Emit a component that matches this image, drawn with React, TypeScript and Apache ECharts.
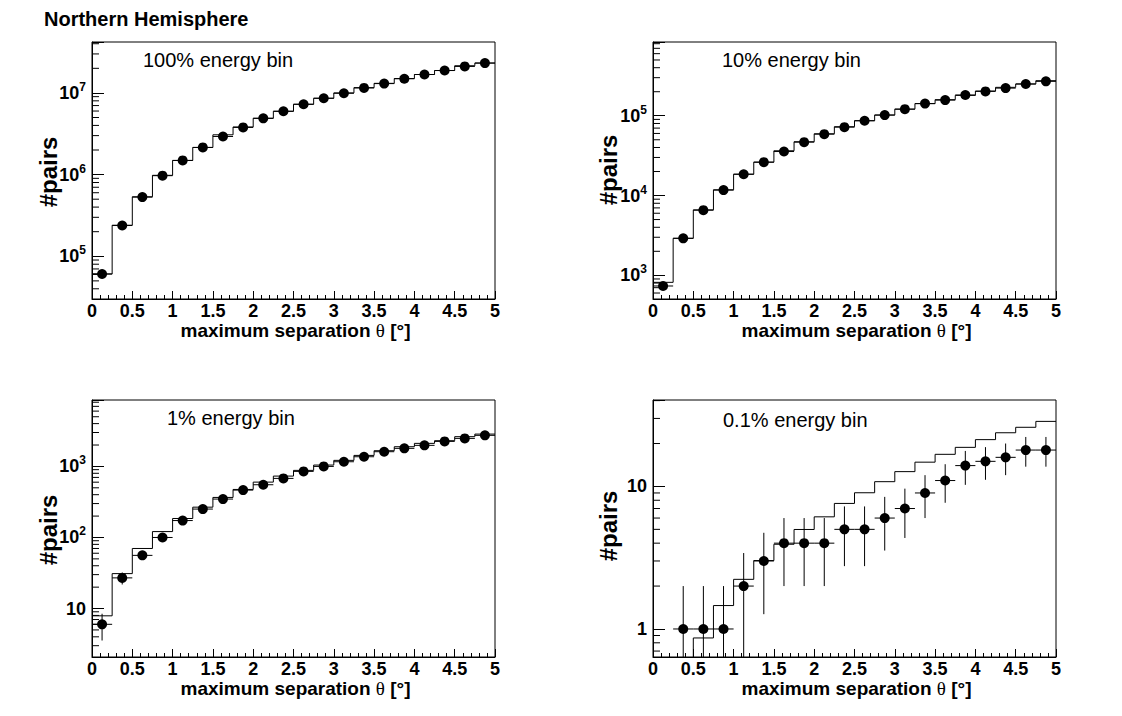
import React, { useEffect, useRef } from 'react';
import * as echarts from 'echarts';

const FONT = '"Liberation Sans", Arial, Helvetica, sans-serif';

// ---- data ----
const BIN_EDGES = [0, 0.25, 0.5, 0.75, 1, 1.25, 1.5, 1.75, 2, 2.25, 2.5, 2.75, 3, 3.25, 3.5, 3.75, 4, 4.25, 4.5, 4.75, 5];
const BIN_CENTERS = [0.125, 0.375, 0.625, 0.875, 1.125, 1.375, 1.625, 1.875, 2.125, 2.375, 2.625, 2.875, 3.125, 3.375, 3.625, 3.875, 4.125, 4.375, 4.625, 4.875];
const BIN_HALF_WIDTH = 0.125;

const P1_POINTS = [6.07e4, 2.38e5, 5.3e5, 9.7e5, 1.49e6, 2.15e6, 2.93e6, 3.78e6, 4.88e6, 5.96e6, 7.26e6, 8.6e6, 9.9e6, 1.15e7, 1.3e7, 1.49e7, 1.68e7, 1.88e7, 2.11e7, 2.32e7];
const P1_HIST = [6.07e4, 2.4e5, 5.35e5, 9.8e5, 1.49e6, 2.15e6, 3.07e6, 3.83e6, 4.9e6, 5.96e6, 7.26e6, 8.6e6, 1.0e7, 1.16e7, 1.31e7, 1.5e7, 1.68e7, 1.88e7, 2.15e7, 2.32e7];

const P2_POINTS = [735, 2910, 6550, 11700, 18500, 26200, 35600, 46700, 58800, 72000, 86600, 102000, 121000, 142000, 157000, 182000, 202000, 222000, 250000, 270000];
const P2_HIST = [817, 2910, 6610, 11800, 18500, 26200, 36400, 47200, 59400, 72800, 86600, 102000, 121000, 142000, 159000, 180000, 204000, 227000, 250000, 275000];

const P3_POINTS = [6, 27, 56, 100, 173, 251, 347, 464, 552, 678, 851, 1000, 1163, 1368, 1610, 1795, 1978, 2250, 2480, 2737];
const P3_ERRORS = [2.45, 5.2, 7.5, 10, 13.2, 15.8, 18.6, 21.5, 23.5, 26, 29.2, 31.6, 34.1, 37, 40.1, 42.4, 44.5, 47.4, 49.8, 52.3];
const P3_HIST = [7.9, 31, 70, 121, 185, 267, 366, 474, 601, 731, 879, 1045, 1216, 1429, 1663, 1892, 2110, 2300, 2620, 2850];

const P4_POINTS = [0, 1, 1, 1, 2, 3, 4, 4, 4, 5, 5, 6, 7, 9, 11, 14, 15, 16, 18, 18];
const P4_ERRORS = [0, 1, 1, 1, 1.41, 1.73, 2, 2, 2, 2.24, 2.24, 2.45, 2.65, 3, 3.32, 3.74, 3.87, 4, 4.24, 4.24];
const P4_HIST = [0, 0, 0.865, 1.46, 2.23, 3.02, 3.93, 4.99, 6.12, 7.6, 9.03, 10.8, 12.7, 14.8, 16.8, 18.8, 21.3, 23.8, 26.0, 28.6];

const PANEL_LABELS = ['100% energy bin', '10% energy bin', '1% energy bin', '0.1% energy bin'];
const Y_RANGES: [number, number][] = [[3.0e4, 4.2e7], [505, 8.4e5], [2.08, 8.6e3], [0.636, 40.4]];
const MINOR_MULTIPLIERS = [2, 3, 4, 5, 6, 7, 8, 9];

const MAIN_TITLE = 'Northern Hemisphere';
const X_TITLE = 'maximum separation {t|θ} [°]';
const Y_TITLE = '#pairs';

const PANELS = [
  { points: P1_POINTS, hist: P1_HIST, errors: null as number[] | null },
  { points: P2_POINTS, hist: P2_HIST, errors: null as number[] | null },
  { points: P3_POINTS, hist: P3_HIST, errors: P3_ERRORS },
  { points: P4_POINTS, hist: P4_HIST, errors: P4_ERRORS },
];

// ---- layout ----
const GRID_W = 403;
const GRID_H = 257;
const LAYOUT = [
  { left: 92, top: 42, labelX: 143, labelY: 60, yTitleX: 48, yTitleY: 172 },
  { left: 653, top: 42, labelX: 722, labelY: 60, yTitleX: 608, yTitleY: 170 },
  { left: 92, top: 400, labelX: 167, labelY: 418, yTitleX: 48, yTitleY: 530 },
  { left: 653, top: 400, labelX: 723, labelY: 420, yTitleX: 608, yTitleY: 526 },
];

function minorTickValues(lo: number, hi: number): number[] {
  const out: number[] = [];
  for (let e = Math.floor(Math.log10(lo)); e <= Math.ceil(Math.log10(hi)); e++) {
    for (const m of MINOR_MULTIPLIERS) {
      const v = m * Math.pow(10, e);
      if (v > lo && v < hi) out.push(v);
    }
  }
  return out;
}

function yLabelFormatter(value: number) {
  const lg = Math.log10(value);
  const e = Math.round(lg);
  if (Math.abs(lg - e) > 1e-6) return '';
  if (e === 0) return '{b|1}';
  if (e === 1) return '{b|10}';
  return '{b|10}{s|' + e + '}';
}

function buildOption() {
  const grid: any[] = [];
  const xAxis: any[] = [];
  const yAxis: any[] = [];
  const series: any[] = [];
  const graphic: any[] = [];

  graphic.push({
    type: 'text',
    x: 44,
    y: 19,
    style: {
      text: MAIN_TITLE,
      font: 'bold 20px ' + FONT,
      fill: '#000',
      align: 'left',
      verticalAlign: 'middle',
      textAlign: 'left',
      textVerticalAlign: 'middle',
    },
  });

  PANELS.forEach((p, i) => {
    const L = LAYOUT[i];
    const [yMin, yMax] = Y_RANGES[i];
    grid.push({
      left: L.left,
      top: L.top,
      width: GRID_W,
      height: GRID_H,
      show: true,
      borderColor: '#000',
      borderWidth: 1,
      backgroundColor: 'transparent',
      containLabel: false,
      outerBoundsMode: 'none',
    });
    xAxis.push({
      type: 'value',
      gridIndex: i,
      min: 0,
      max: 5,
      interval: 0.5,
      axisLine: { show: true, onZero: false, lineStyle: { color: '#000', width: 1 } },
      axisTick: { show: true, inside: true, length: 8, lineStyle: { color: '#000', width: 1 } },
      minorTick: { show: true, splitNumber: 5, length: 4, lineStyle: { color: '#000', width: 1 } },
      splitLine: { show: false },
      minorSplitLine: { show: false },
      axisLabel: {
        color: '#000',
        fontFamily: FONT,
        fontWeight: 'bold',
        fontSize: 18,
        margin: 3,
        showMinLabel: true,
        showMaxLabel: true,
      },
    });
    yAxis.push({
      type: 'log',
      logBase: 10,
      gridIndex: i,
      min: yMin,
      max: yMax,
      axisLine: { show: true, lineStyle: { color: '#000', width: 1 } },
      axisTick: { show: true, inside: true, length: 12, lineStyle: { color: '#000', width: 1 } },
      splitLine: { show: false },
      axisLabel: {
        margin: 6,
        formatter: yLabelFormatter,
        rich: {
          b: { fontFamily: FONT, fontWeight: 'bold', fontSize: 18, color: '#000', lineHeight: 24 },
          s: { fontFamily: FONT, fontWeight: 'bold', fontSize: 12, color: '#000', lineHeight: 12, verticalAlign: 'top' },
        },
      },
    });

    // histogram (step line)
    const floorVal = yMin * 0.5;
    series.push({
      type: 'line',
      xAxisIndex: i,
      yAxisIndex: i,
      step: 'end',
      symbol: 'none',
      showSymbol: false,
      silent: true,
      clip: true,
      z: 2,
      lineStyle: { color: '#000', width: 1 },
      data: BIN_EDGES.map((x, k) => {
        const v = p.hist[Math.min(k, p.hist.length - 1)];
        return [x, v > 0 ? v : floorVal];
      }),
    });

    // error bars
    const errData = BIN_CENTERS.map((x, k) => [x, p.points[k], p.errors ? p.errors[k] : 0]).filter((d) => d[1] > 0);
    series.push({
      type: 'custom',
      xAxisIndex: i,
      yAxisIndex: i,
      silent: true,
      z: 3,
      encode: { x: 0, y: 1 },
      data: errData,
      renderItem: (params: any, api: any) => {
        const x = api.value(0);
        const y = api.value(1);
        const e = api.value(2);
        const pL = api.coord([x - BIN_HALF_WIDTH, y]);
        const pR = api.coord([x + BIN_HALF_WIDTH, y]);
        const children: any[] = [
          { type: 'line', shape: { x1: pL[0], y1: pL[1], x2: pR[0], y2: pR[1] }, style: { stroke: '#000', lineWidth: 1 } },
        ];
        if (e > 0) {
          const lo = Math.max(y - e, yMin);
          const hi = Math.min(y + e, yMax);
          const pB = api.coord([x, lo]);
          const pT = api.coord([x, hi]);
          children.push({ type: 'line', shape: { x1: pB[0], y1: pB[1], x2: pT[0], y2: pT[1] }, style: { stroke: '#000', lineWidth: 1 } });
        }
        return { type: 'group', children };
      },
    });

    // markers
    series.push({
      type: 'scatter',
      xAxisIndex: i,
      yAxisIndex: i,
      symbol: 'circle',
      symbolSize: 10,
      silent: true,
      z: 4,
      itemStyle: { color: '#000', opacity: 1 },
      data: BIN_CENTERS.map((x, k) => [x, p.points[k]]).filter((d) => d[1] > 0),
    });

    // minor y ticks
    series.push({
      type: 'custom',
      xAxisIndex: i,
      yAxisIndex: i,
      silent: true,
      z: 5,
      encode: { x: 0, y: 1 },
      data: minorTickValues(yMin, yMax).map((v) => [0, v]),
      renderItem: (params: any, api: any) => {
        const pt = api.coord([0, api.value(1)]);
        return { type: 'line', shape: { x1: pt[0], y1: pt[1], x2: pt[0] + 7, y2: pt[1] }, style: { stroke: '#000', lineWidth: 1 } };
      },
    });

    // panel label
    graphic.push({
      type: 'text',
      x: L.labelX,
      y: L.labelY,
      style: {
        text: PANEL_LABELS[i],
        font: '20px ' + FONT,
        fill: '#000',
        align: 'left',
        verticalAlign: 'middle',
        textAlign: 'left',
        textVerticalAlign: 'middle',
      },
    });
    // y title
    graphic.push({
      type: 'text',
      x: L.yTitleX,
      y: L.yTitleY,
      rotation: Math.PI / 2,
      style: {
        text: Y_TITLE,
        font: 'bold 24px ' + FONT,
        fill: '#000',
        align: 'center',
        verticalAlign: 'middle',
        textAlign: 'center',
        textVerticalAlign: 'middle',
      },
    });
    // x title
    graphic.push({
      type: 'text',
      x: L.left + GRID_W / 2 + 2,
      y: L.top + GRID_H + 31,
      style: {
        text: X_TITLE,
        font: 'bold 19px ' + FONT,
        fill: '#000',
        align: 'center',
        verticalAlign: 'middle',
        textAlign: 'center',
        textVerticalAlign: 'middle',
        rich: {
          t: { fontFamily: '"Liberation Serif", "DejaVu Serif", serif', fontSize: 19, fontWeight: 'normal', fill: '#000' },
        },
      },
    });
  });

  return {
    animation: false,
    backgroundColor: '#fff',
    tooltip: { show: false },
    grid,
    xAxis,
    yAxis,
    series,
    graphic,
  };
}

export default function App() {
  const ref = useRef<HTMLDivElement>(null);
  useEffect(() => {
    if (!ref.current) return;
    const chart = echarts.init(ref.current, null, { renderer: 'svg' });
    chart.setOption(buildOption() as any);
    return () => {
      chart.dispose();
    };
  }, []);
  return (
    <div
      ref={ref}
      style={{ position: 'absolute', left: 0, top: 0, width: 1122, height: 716, background: '#fff' }}
    />
  );
}
